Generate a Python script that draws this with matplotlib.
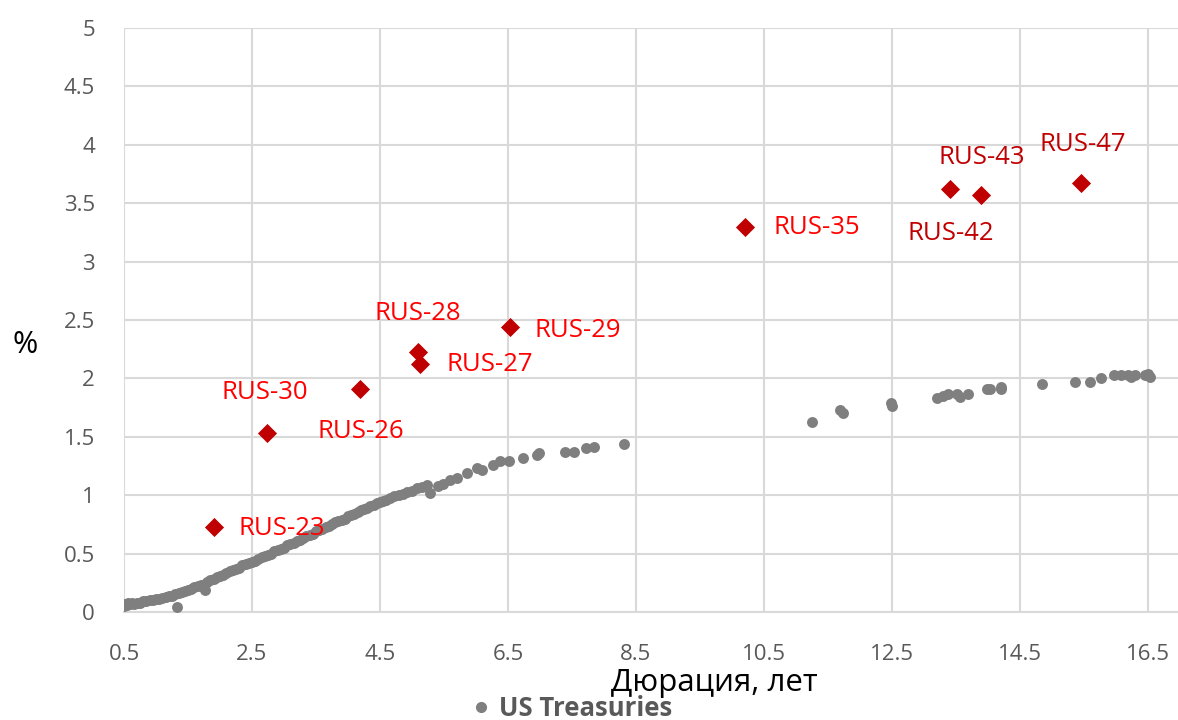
import numpy as np
import matplotlib.pyplot as plt
from matplotlib.lines import Line2D

plt.rcParams['font.family'] = ['Open Sans', 'DejaVu Sans']

# US Treasuries: duration (years) vs yield (%)
ust_dur = [0.50, 0.52, 0.55, 0.57, 0.60, 0.62, 0.65, 0.70, 0.75, 0.80, 0.85, 0.90,
           0.95, 1.00, 1.05, 1.10, 1.15, 1.20, 1.25, 1.30, 1.33, 1.36, 1.40, 1.45,
           1.50, 1.55, 1.60, 1.65, 1.70, 1.77, 1.80, 1.85, 1.90, 1.95, 2.00, 2.05,
           2.10, 2.15, 2.20, 2.25, 2.30, 2.35, 2.40, 2.45, 2.50, 2.55, 2.60, 2.65,
           2.70, 2.75, 2.80, 2.85, 2.90, 2.95, 3.00, 3.05, 3.10, 3.15, 3.20, 3.25,
           3.30, 3.35, 3.40, 3.45, 3.50, 3.55, 3.60, 3.65, 3.70, 3.75, 3.80, 3.85,
           3.90, 3.95, 4.00, 4.05, 4.10, 4.15, 4.20, 4.25, 4.30, 4.35, 4.40, 4.45,
           4.50, 4.55, 4.60, 4.66, 4.72, 4.80, 4.86, 4.92, 5.00, 5.08, 5.15, 5.23,
           5.28, 5.40, 5.48, 5.60, 5.70, 5.86, 6.02, 6.10, 6.27, 6.38, 6.52, 6.73,
           6.95, 6.98, 7.39, 7.53, 7.72, 7.84, 8.31,
           11.25, 11.69, 11.73, 12.48, 12.50, 13.20, 13.30, 13.38, 13.52, 13.56,
           13.69, 13.98, 14.03, 14.20, 14.20, 14.84, 15.36, 15.60, 15.77, 15.97,
           16.08, 16.19, 16.23, 16.30, 16.45, 16.50, 16.53]
ust_yld = [0.05, 0.07, 0.06, 0.08, 0.07, 0.08, 0.07, 0.08, 0.08, 0.09, 0.09, 0.10,
           0.10, 0.11, 0.11, 0.12, 0.13, 0.14, 0.14, 0.15, 0.04, 0.16, 0.17, 0.18,
           0.19, 0.20, 0.21, 0.22, 0.23, 0.19, 0.26, 0.27, 0.28, 0.30, 0.31, 0.32,
           0.33, 0.35, 0.36, 0.37, 0.38, 0.40, 0.41, 0.42, 0.43, 0.44, 0.45, 0.47,
           0.48, 0.49, 0.50, 0.52, 0.53, 0.54, 0.55, 0.57, 0.58, 0.59, 0.61, 0.62,
           0.63, 0.65, 0.66, 0.67, 0.69, 0.70, 0.71, 0.73, 0.74, 0.75, 0.77, 0.78,
           0.79, 0.80, 0.82, 0.83, 0.84, 0.86, 0.87, 0.88, 0.89, 0.91, 0.92, 0.93,
           0.94, 0.95, 0.96, 0.98, 0.99, 1.00, 1.01, 1.03, 1.04, 1.06, 1.07, 1.09,
           1.02, 1.08, 1.10, 1.13, 1.15, 1.19, 1.23, 1.22, 1.26, 1.29, 1.29, 1.32,
           1.34, 1.36, 1.37, 1.37, 1.40, 1.41, 1.44,
           1.63, 1.73, 1.70, 1.79, 1.76, 1.83, 1.85, 1.87, 1.87, 1.84,
           1.87, 1.91, 1.91, 1.93, 1.91, 1.95, 1.97, 1.97, 2.00, 2.03,
           2.03, 2.03, 2.01, 2.03, 2.03, 2.04, 2.01]

# Russian eurobonds
rus_names = ['RUS-23', 'RUS-26', 'RUS-30', 'RUS-28', 'RUS-27', 'RUS-29',
             'RUS-35', 'RUS-42', 'RUS-43', 'RUS-47']
rus_dur = [1.90, 2.73, 4.18, 5.09, 5.12, 6.53, 10.21, 13.41, 13.89, 15.45]
rus_yld = [0.73, 1.53, 1.91, 2.23, 2.12, 2.44, 3.30, 3.62, 3.57, 3.67]

# label offsets in pixels (dx, dy)
lbl_off = [(68, -2), (94, 2), (-95, -4), (0, 38), (70, 0), (68, -3),
           (71, -1), (1, -44), (1, 38), (2, 39)]
lbl_col = ['#FF0000'] * 7 + ['#C00000'] * 3

fig = plt.figure(figsize=(11.78, 7.2), dpi=100)
ax = fig.add_axes([124 / 1178, 108 / 720, 1054 / 1178, 584 / 720])

ax.scatter(ust_dur, ust_yld, s=62, color='#7F7F7F', zorder=3, linewidths=0)
ax.scatter(rus_dur, rus_yld, s=95, marker='D', color='#C00000', zorder=4, linewidths=0)

for name, x, y, off, c in zip(rus_names, rus_dur, rus_yld, lbl_off, lbl_col):
    ax.annotate(name, (x, y), xytext=off, textcoords='offset pixels',
                ha='center', va='center', fontsize=18.5, color=c, zorder=5)

ax.set_xlim(0.5, 16.97)
ax.set_ylim(0, 5)
ax.set_xticks(np.arange(0.5, 16.6, 2))
ax.set_yticks(np.arange(0, 5.01, 0.5))
ax.set_xticklabels(['0.5', '2.5', '4.5', '6.5', '8.5', '10.5', '12.5', '14.5', '16.5'])
ax.set_yticklabels(['0', '0.5', '1', '1.5', '2', '2.5', '3', '3.5', '4', '4.5', '5'])
ax.tick_params(axis='both', length=0, labelsize=16, colors='#595959')
ax.tick_params(axis='x', pad=23)
ax.tick_params(axis='y', pad=21)

ax.grid(True, color='#D9D9D9', linewidth=1.5)
ax.set_axisbelow(True)
for s in ['top', 'right', 'left']:
    ax.spines[s].set_visible(False)
ax.spines['bottom'].set_color('#D9D9D9')
ax.spines['bottom'].set_linewidth(1.5)

ax.set_xlabel('Дюрация, лет', fontsize=22.5, color='black')
ax.xaxis.set_label_coords(0.56, -0.122)
ax.xaxis.label.set_va('center')
ax.set_ylabel('%', fontsize=22, color='black', rotation=0)
ax.yaxis.set_label_coords(-0.094, 0.457)
ax.yaxis.label.set_va('center')

h = Line2D([], [], marker='o', linestyle='', color='#7F7F7F', markersize=7)
fig.legend([h], ['US Treasuries'], loc='center', bbox_to_anchor=(570 / 1178, 1 - 708 / 720),
           frameon=False, handletextpad=0.2, handlelength=1.0,
           prop={'weight': 'bold', 'size': 18.5}, labelcolor='#595959')

fig.savefig('out.png', dpi=100)
